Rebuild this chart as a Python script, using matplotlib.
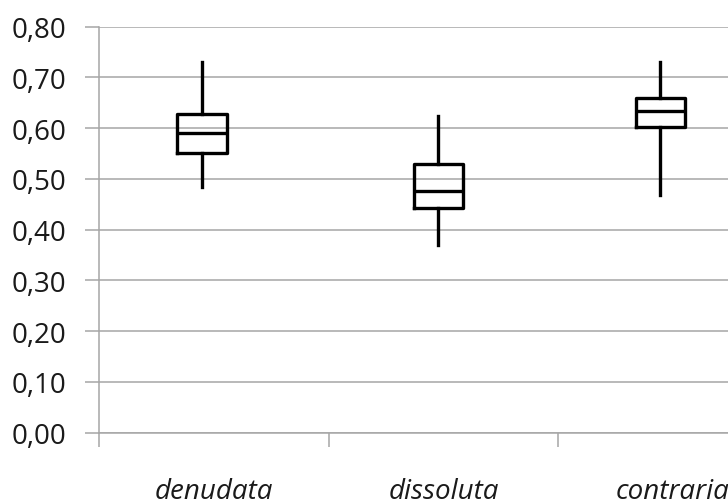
import matplotlib
matplotlib.use("Agg")
import matplotlib.pyplot as plt
from matplotlib.ticker import FixedLocator, FuncFormatter

categories = ["denudata", "dissoluta", "contraria"]
whisker_low = [0.483, 0.370, 0.469]
q1 = [0.551, 0.443, 0.603]
median = [0.591, 0.476, 0.633]
q3 = [0.627, 0.529, 0.660]
whisker_high = [0.730, 0.624, 0.731]
y_ticks = [0.0, 0.1, 0.2, 0.3, 0.4, 0.5, 0.6, 0.7, 0.8]

offsets = [-0.053, -0.023, -0.055]

fig = plt.figure(figsize=(7.28, 5.02), dpi=100)
ax = fig.add_axes([99.5 / 728, 1 - 433.7 / 502, 688.2 / 728, (433.7 - 27.5) / 502])

stats = []
for i, c in enumerate(categories):
    stats.append(dict(label=c, whislo=whisker_low[i], q1=q1[i], med=median[i],
                      q3=q3[i], whishi=whisker_high[i], fliers=[]))

lw = 2.4
ax.bxp(stats, positions=[i + offsets[i] for i in range(len(categories))],
       widths=0.215, showcaps=False, showfliers=False, patch_artist=False,
       boxprops=dict(color="black", linewidth=lw),
       whiskerprops=dict(color="black", linewidth=lw),
       medianprops=dict(color="black", linewidth=lw),
       zorder=3)

ax.set_xlim(-0.5, 2.5)
ax.set_ylim(0, 0.8)
ax.set_yticks(y_ticks)
ax.yaxis.set_major_formatter(FuncFormatter(lambda v, p: f"{v:.2f}".replace(".", ",")))
ax.xaxis.set_major_locator(FixedLocator([0, 1, 2]))
ax.set_xticklabels(categories, fontstyle="italic")
ax.xaxis.set_minor_locator(FixedLocator([-0.5, 0.5, 1.5, 2.5]))

gray = "#a6a6a6"
ax.grid(axis="y", color=gray, linewidth=1.1, zorder=0)
for s in ["top", "right"]:
    ax.spines[s].set_visible(False)
for s in ["left", "bottom"]:
    ax.spines[s].set_color(gray)
    ax.spines[s].set_linewidth(1.1)

ax.tick_params(axis="y", which="major", length=10, width=1.1, color=gray,
               labelsize=20, pad=14, labelcolor="#1a1a1a")
ax.tick_params(axis="x", which="major", length=0, labelsize=20, pad=32,
               labelcolor="#1a1a1a")
ax.tick_params(axis="x", which="minor", length=10, width=1.1, color=gray)

for lbl in ax.get_yticklabels() + ax.get_xticklabels():
    lbl.set_fontfamily(["Open Sans", "DejaVu Sans"])

fig.savefig("out.png", dpi=100)
